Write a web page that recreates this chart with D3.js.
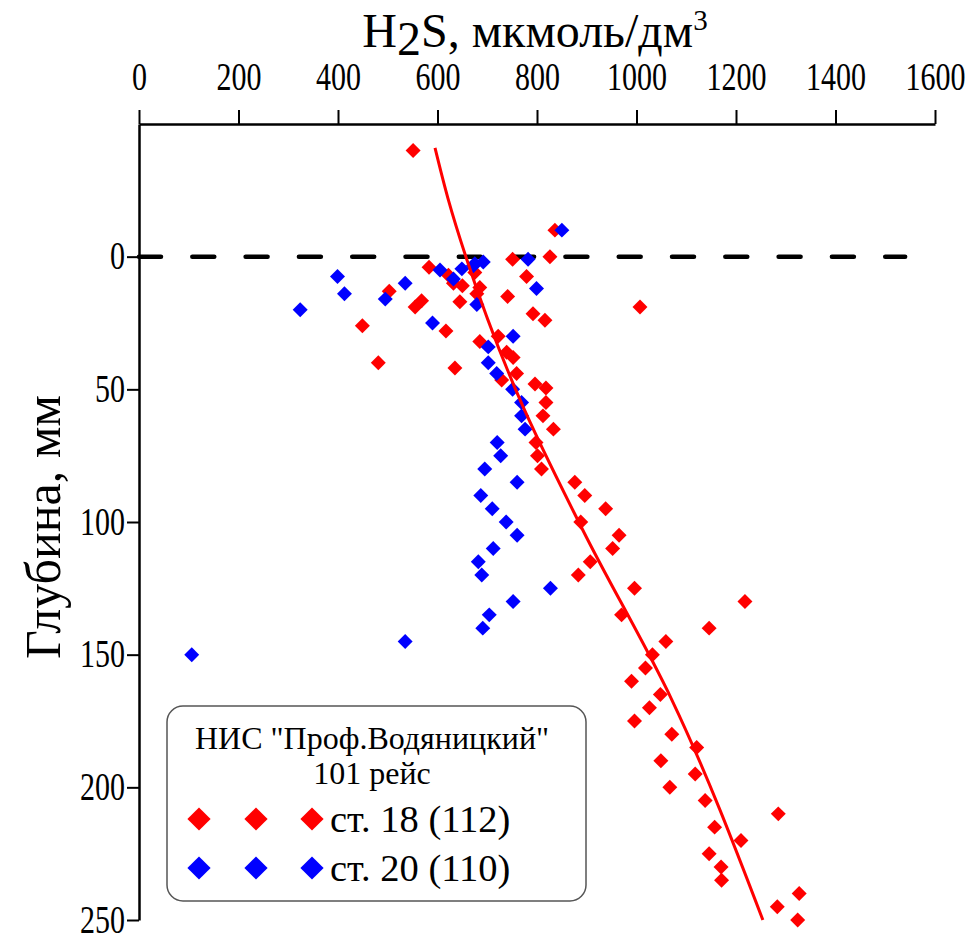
<!DOCTYPE html>
<html>
<head>
<meta charset="utf-8">
<script src="https://cdn.jsdelivr.net/npm/d3@7/dist/d3.min.js"></script>
<style>
    body { margin: 0; background: #fff; }
    svg { display: block; }
</style>
</head>
<body>
<svg id="chart" width="975" height="934"></svg>
<script>

// ст. 18 (112) - H2S, мкмоль/дм3 and depth, мм
var st18Conc = [551, 836, 826, 751, 583, 622, 632, 779, 650, 685, 675, 679, 503, 568, 555, 645, 741,
    1007, 792, 816, 449, 617, 722, 685, 739, 752, 481, 635, 759, 729, 796, 818, 818, 812, 833, 798,
    801, 809, 876, 896, 938, 888, 965, 952, 907, 883, 996, 1218, 970, 1146, 1059, 1032, 1018, 990,
    1048, 1026, 996, 1071, 1121, 1049, 1118, 1067, 1138, 1285, 1157, 1210, 1146, 1170, 1171, 1327,
    1283, 1324];
var st18Depth = [-40, -10, 0, 1, 4, 7, 10, 7.5, 11, 11.6, 6, 14, 13, 16.6, 19, 17, 15,
    19, 21.5, 24, 26, 28, 30, 32, 36, 38, 40, 42, 44, 46.5, 48, 49.5, 55, 60, 65, 70,
    75, 80, 85, 90, 95, 100, 105, 110, 115, 120, 125, 130, 135, 140, 145, 150, 155, 160,
    165, 170, 175, 180, 185, 190, 195, 200, 205, 210, 215, 220, 225, 230, 235, 240,
    245, 250];

// ст. 20 (110)
var st20Conc = [850, 782, 692, 672, 675, 649, 605, 632, 535, 399, 413, 495, 324, 799, 679, 590,
    752, 702, 702, 719, 751, 769, 769, 776, 720, 727, 695, 760, 687, 710, 738, 760, 712, 682,
    689, 827, 752, 704, 691, 535, 106];
var st20Depth = [-10, 1, 2, 3.4, 2.7, 4.6, 5, 8.4, 10, 7.5, 14, 16, 20, 12, 18, 25,
    30, 34, 40, 44, 50, 55, 60, 65, 70, 75, 80, 85, 90, 95, 100, 105, 110, 115,
    120, 125, 130, 135, 140, 145, 150];

// trend line
var fitConc = [595, 621, 657, 766, 892, 1071, 1254];
var fitDepth = [-41, -22, 0, 54, 103, 167, 250];

var xTicks = [0, 200, 400, 600, 800, 1000, 1200, 1400, 1600];
var xMinorTicks = [100, 300, 500, 700, 900, 1100, 1300, 1500];
var yTicks = [0, 50, 100, 150, 200, 250];
var yMinorTicks = [25, 75, 125, 175, 225];

var legendTitle = ['НИС "Проф.Водяницкий"', '101 рейс'];
var seriesNames = ['ст. 18 (112)', 'ст. 20 (110)'];
var seriesColors = ['#ff0000', '#0000ff'];

var serif = '"Liberation Serif"';

var svg = d3.select('#chart');

var x = d3.scaleLinear().domain([0, 1600]).range([139, 935]);
var y = d3.scaleLinear().domain([-50, 250]).range([124, 920]);

// tick labels in the original are narrow and tall
var labelScale = 0.75;

// top axis
var gx = svg.append('g').attr('transform', 'translate(0,124)');
gx.call(d3.axisTop(x).tickValues(xMinorTicks).tickSize(7).tickFormat(''));
gx.select('.domain').remove();
gx.call(d3.axisTop(x).tickValues(xTicks).tickSize(14).tickSizeOuter(0).tickFormat(d3.format('d')));
gx.selectAll('line').attr('stroke-width', 2);
gx.select('.domain').attr('stroke-width', 2.5);
gx.selectAll('text')
    .style('font-family', serif)
    .attr('font-size', 40)
    .attr('fill', '#000')
    .attr('y', -34)
    .attr('transform', 'scale(' + labelScale + ',1)');

// left axis
var gy = svg.append('g').attr('transform', 'translate(139,0)');
gy.call(d3.axisLeft(y).tickValues(yMinorTicks).tickSize(7).tickFormat(''));
gy.select('.domain').remove();
gy.call(d3.axisLeft(y).tickValues(yTicks).tickSize(12).tickSizeOuter(0).tickFormat(d3.format('d')));
gy.selectAll('line').attr('stroke-width', 2);
gy.select('.domain').attr('stroke-width', 2.5);
gy.selectAll('text')
    .style('font-family', serif)
    .attr('font-size', 40)
    .attr('fill', '#000')
    .attr('x', -14 / labelScale)
    .attr('dy', '0.3em')
    .attr('transform', 'scale(' + labelScale + ',1)');

// axis titles
var title = svg.append('text')
    .style('font-family', serif)
    .attr('x', 535)
    .attr('y', 47)
    .attr('text-anchor', 'middle')
    .attr('font-size', 48);
title.append('tspan').text('H');
title.append('tspan').attr('dy', 8).text('2');
title.append('tspan').attr('dy', -8).text('S, мкмоль/дм');
title.append('tspan').attr('dy', -17).attr('font-size', 29).text('3');

svg.append('text')
    .style('font-family', serif)
    .attr('transform', 'translate(60,527) rotate(-90)')
    .attr('text-anchor', 'middle')
    .attr('font-size', 50)
    .text('Глубина, мм');

// sediment surface
svg.append('line')
    .attr('x1', x(0)).attr('x2', x(1540))
    .attr('y1', y(0)).attr('y2', y(0))
    .attr('stroke', '#000')
    .attr('stroke-width', 4.5)
    .attr('stroke-linecap', 'round')
    .attr('stroke-dasharray', '22,31.3');

var diamond = d3.symbol().type(d3.symbolSquare).size(112);

function drawPoints(conc, depth, color) {
    var pts = conc.map(function(c, i) { return { c: c, d: depth[i] }; });
    svg.append('g').selectAll('path')
        .data(pts)
        .enter()
        .append('path')
        .attr('d', diamond)
        .attr('fill', color)
        .attr('transform', function(d) {
            return 'translate(' + x(d.c) + ',' + y(d.d) + ') rotate(45)';
        });
}

drawPoints(st18Conc, st18Depth, seriesColors[0]);
drawPoints(st20Conc, st20Depth, seriesColors[1]);

var fitLine = d3.line()
    .curve(d3.curveMonotoneY)
    .x(function(d) { return x(d.c); })
    .y(function(d) { return y(d.d); });

svg.append('path')
    .datum(fitConc.map(function(c, i) { return { c: c, d: fitDepth[i] }; }))
    .attr('d', fitLine)
    .attr('fill', 'none')
    .attr('stroke', seriesColors[0])
    .attr('stroke-width', 3);

// legend
var lg = svg.append('g');
lg.append('rect')
    .attr('x', 167).attr('y', 706)
    .attr('width', 419).attr('height', 195)
    .attr('rx', 16)
    .attr('fill', '#fff')
    .attr('stroke', '#555')
    .attr('stroke-width', 1.5);

lg.selectAll('.lg-title')
    .data(legendTitle)
    .enter()
    .append('text')
    .attr('class', 'lg-title')
    .style('font-family', serif)
    .attr('x', 372)
    .attr('y', function(d, i) { return 749 + i * 35; })
    .attr('text-anchor', 'middle')
    .attr('font-size', 32)
    .text(function(d) { return d; });

var legendDiamond = d3.symbol().type(d3.symbolSquare).size(270);
seriesNames.forEach(function(name, i) {
    var cy = 819 + i * 49;
    lg.selectAll('.lg-mark' + i)
        .data([199, 256, 312])
        .enter()
        .append('path')
        .attr('d', legendDiamond)
        .attr('fill', seriesColors[i])
        .attr('transform', function(d) { return 'translate(' + d + ',' + cy + ') rotate(45)'; });
    lg.append('text')
        .style('font-family', serif)
        .attr('x', 330)
        .attr('y', cy + 13)
        .attr('font-size', 38.5)
        .text(name);
});

</script>
</body>
</html>
